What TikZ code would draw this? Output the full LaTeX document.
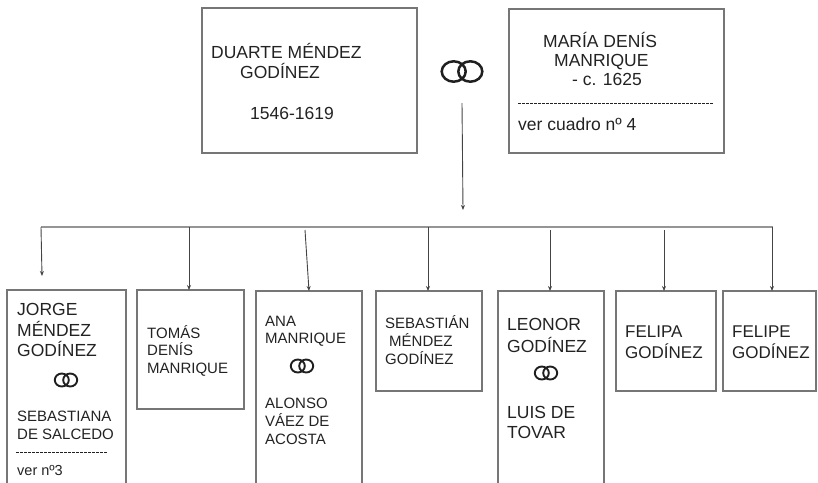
\documentclass[tikz,border=0pt]{standalone}
\usepackage{fontspec}
\setmainfont{Liberation Sans}
\usetikzlibrary{arrows.meta}
\definecolor{boxgray}{HTML}{767676}
\definecolor{linegray}{HTML}{444444}
\definecolor{bargray}{HTML}{959595}
\definecolor{textc}{HTML}{222222}
\begin{document}
\begin{tikzpicture}[x=1pt,y=-1pt,
  box/.style={draw=boxgray, line width=1.4pt, rectangle, inner sep=0pt, outer sep=0pt, anchor=north west},
  txt/.style={inner sep=0pt, anchor=base west, text=textc, font=\fontsize{17.5}{20}\selectfont},
  txts/.style={txt, font=\fontsize{15}{18}\selectfont},
  conn/.style={draw=linegray, line width=0.9pt, -{Stealth[length=5pt,width=4pt]}},
  barline/.style={draw=bargray, line width=2.8pt},
  sep/.style={draw=textc, line width=0.8pt, dash pattern=on 3pt off 1pt},
  bigrings/.pic={\draw[line width=2.5pt, black!88] (-8.3pt,0) ellipse [x radius=12pt, y radius=10.2pt] (8.3pt,0) ellipse [x radius=12pt, y radius=10.2pt];},
  smallrings/.pic={\draw[line width=1.9pt, black!88] (-4.2pt,0) ellipse [x radius=7pt, y radius=6.5pt] (4.2pt,0) ellipse [x radius=7pt, y radius=6.5pt];}
]
\useasboundingbox (0,0) rectangle (818,482);

% parents
\node[box, minimum width=215pt, minimum height=145pt] (duarte) at (202,8) {};
\node[box, minimum width=215pt, minimum height=144pt] (maria) at (509,9) {};
\node[txt] (d1) at (211,58) {DUARTE MÉNDEZ};
\node[txt] (d2) at (240,78) {GODÍNEZ};
\node[txt] (d3) at (250,119) {1546-1619};
\node[txt] (m1) at (543,47) {MARÍA DENÍS};
\node[txt] (m2) at (554,66) {MANRIQUE};
\node[txt] (m3) at (572,85) {- c. 1625};
\coordinate (msepL) at (518,103);
\coordinate (msepR) at (713,103);
\draw[sep] (msepL) -- (msepR);
\node[txt] (m4) at (518,130) {ver cuadro nº 4};

\node[minimum width=44pt, minimum height=23pt, inner sep=0pt] (rings0) at (462,71.5) {};
\pic at (rings0.center) {bigrings};

% children boxes
\node[box, minimum width=119pt, minimum height=200pt] (jorge) at (7,290) {};
\node[box, minimum width=107pt, minimum height=119pt] (tomas) at (137,290) {};
\node[box, minimum width=106pt, minimum height=200pt] (ana) at (256,291) {};
\node[box, minimum width=106pt, minimum height=100pt] (sebastian) at (376,291) {};
\node[box, minimum width=106pt, minimum height=200pt] (leonor) at (498,291) {};
\node[box, minimum width=100pt, minimum height=100pt] (felipa) at (616,291) {};
\node[box, minimum width=93pt, minimum height=100pt] (felipe) at (723,291) {};

% connectors
\coordinate (drop) at (463,210);
\draw[conn] ([yshift=-20pt]rings0.south) -- (drop);
\coordinate (barL) at (41,227);
\coordinate (barR) at (773,227);
\draw[barline] (barL) -- (barR);
\coordinate (jtip) at (42,276);
\coordinate (bt) at (189,227);
\coordinate (ba) at (305,230);
\coordinate (bs) at (428,227);
\coordinate (bl) at (550,230);
\coordinate (bfa) at (664,230);
\coordinate (bfe) at (772,227);
\draw[conn] (barL) -- (jtip);
\draw[conn] (bt) -- (bt |- tomas.north);
\draw[conn] (ba) -- (ana.north);
\draw[conn] (bs) -- (bs |- sebastian.north);
\draw[conn] (bl) -- (bl |- leonor.north);
\draw[conn] (bfa) -- (bfa |- felipa.north);
\draw[conn] (bfe) -- (bfe |- felipe.north);

% Jorge
\node[txt] (j1) at (17,315) {JORGE};
\node[txt] (j2) at (17,336) {MÉNDEZ};
\node[txt] (j3) at (17,356) {GODÍNEZ};
\node[minimum width=22pt, minimum height=16pt, inner sep=0pt] (rj) at (66,380) {};
\pic at (rj.center) {smallrings};
\node[txts] (j4) at (17,421) {SEBASTIANA};
\node[txts] (j5) at (17,439) {DE SALCEDO};
\coordinate (jsepL) at (16,452);
\coordinate (jsepR) at (108,452);
\draw[sep] (jsepL) -- (jsepR);
\node[txt, font=\fontsize{14.5}{17}\selectfont] (j6) at (17,475) {ver nº3};

% Tomas
\node[txts] (t1) at (147,338) {TOMÁS};
\node[txts] (t2) at (147,355) {DENÍS};
\node[txts] (t3) at (147,373) {MANRIQUE};

% Ana
\node[txts] (a1) at (265,326) {ANA};
\node[txts] (a2) at (265,343) {MANRIQUE};
\node[minimum width=22pt, minimum height=16pt, inner sep=0pt] (ra) at (302,366) {};
\pic at (ra.center) {smallrings};
\node[txts] (a3) at (265,408) {ALONSO};
\node[txts] (a4) at (265,426) {VÁEZ DE};
\node[txts] (a5) at (265,444) {ACOSTA};

% Sebastian
\node[txts] (s1) at (385,328) {SEBASTIÁN};
\node[txts] (s2) at (389,346) {MÉNDEZ};
\node[txts] (s3) at (385,364) {GODÍNEZ};

% Leonor
\node[txt] (l1) at (507,330) {LEONOR};
\node[txt] (l2) at (507,352) {GODÍNEZ};
\node[minimum width=22pt, minimum height=16pt, inner sep=0pt] (rl) at (546,373) {};
\pic at (rl.center) {smallrings};
\node[txt] (l3) at (507,418) {LUIS DE};
\node[txt] (l4) at (507,438) {TOVAR};

% Felipa, Felipe
\node[txt, font=\fontsize{17}{20}\selectfont] (fa1) at (625,337) {FELIPA};
\node[txt, font=\fontsize{17}{20}\selectfont] (fa2) at (625,358) {GODÍNEZ};
\node[txt, font=\fontsize{17}{20}\selectfont] (fe1) at (732,337) {FELIPE};
\node[txt, font=\fontsize{17}{20}\selectfont] (fe2) at (732,358) {GODÍNEZ};
\end{tikzpicture}
\end{document}
